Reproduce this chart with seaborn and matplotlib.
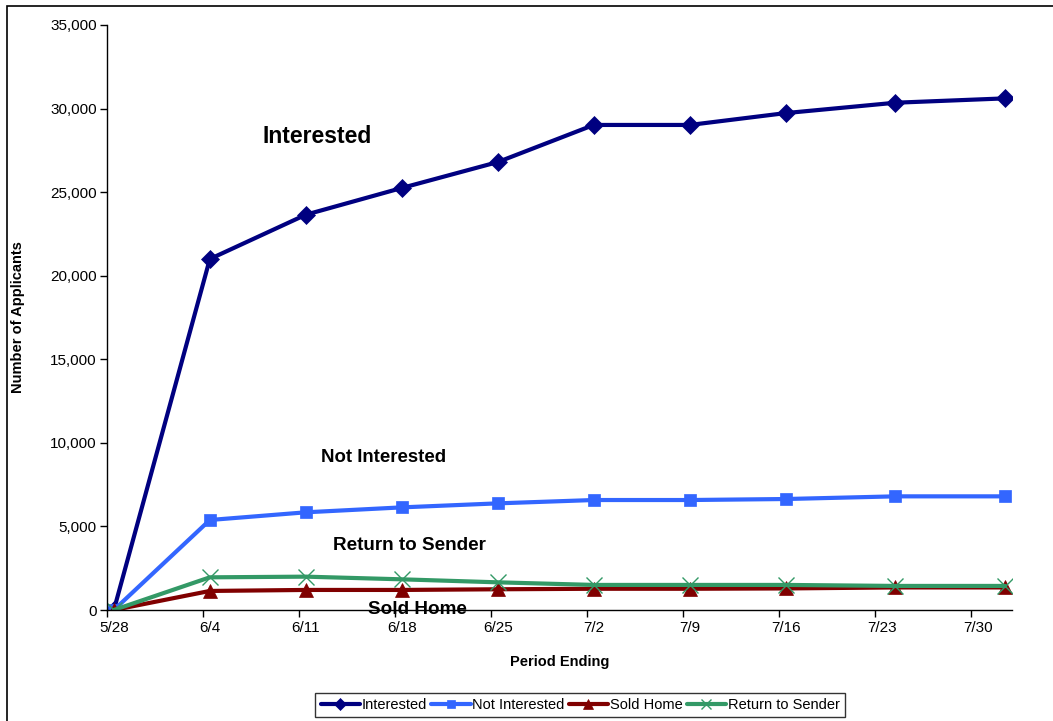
import matplotlib
matplotlib.use("Agg")
import matplotlib.pyplot as plt
import matplotlib.ticker as mticker
from matplotlib.patches import Rectangle
import seaborn as sns
import pandas as pd
import numpy as np

# Weekly report dates and applicant counts per response category
period_ending = ["2008-05-28", "2008-06-04", "2008-06-11", "2008-06-18", "2008-06-25",
                 "2008-07-02", "2008-07-09", "2008-07-16", "2008-07-24", "2008-08-01"]
interested = [0, 21000, 23650, 25250, 26800, 29020, 29020, 29730, 30350, 30610]
not_interested = [0, 5385, 5845, 6140, 6380, 6580, 6580, 6640, 6800, 6800]
sold_home = [0, 1140, 1200, 1200, 1240, 1270, 1270, 1290, 1350, 1350]
return_to_sender = [0, 1955, 1995, 1835, 1655, 1500, 1500, 1500, 1440, 1440]

tick_labels = ["5/28", "6/4", "6/11", "6/18", "6/25", "7/2", "7/9", "7/16", "7/23", "7/30"]

series_names = ["Interested", "Not Interested", "Sold Home", "Return to Sender"]
series_values = [interested, not_interested, sold_home, return_to_sender]
colors = {"Interested": "#000080", "Not Interested": "#3366FF",
          "Sold Home": "#800000", "Return to Sender": "#339966"}
markers = {"Interested": "D", "Not Interested": "s",
           "Sold Home": "^", "Return to Sender": "x"}
marker_sizes = {"Interested": 9, "Not Interested": 9, "Sold Home": 10, "Return to Sender": 11}

dates = pd.to_datetime(period_ending)
start = dates[0]
# Date axis in days; each point sits in the middle of its day slot
day_pos = ((dates - start).days + 0.5).to_numpy()

sns.set_style("white")
plt.rcParams["font.family"] = ["Liberation Sans", "DejaVu Sans"]
plt.rcParams["text.color"] = "black"
plt.rcParams["axes.labelcolor"] = "black"
plt.rcParams["xtick.color"] = "black"
plt.rcParams["ytick.color"] = "black"

fig = plt.figure(figsize=(10.53, 7.21), dpi=100)
ax = fig.add_axes([107 / 1053, (721 - 610) / 721, (1012 - 107) / 1053, (610 - 25) / 721])

for name, vals in zip(series_names, series_values):
    d = pd.DataFrame({"day": day_pos, "applicants": vals})
    is_x = markers[name] == "x"
    sns.lineplot(data=d, x="day", y="applicants", color=colors[name],
                 marker=markers[name], markersize=marker_sizes[name],
                 markeredgewidth=1.0 if is_x else 0.5,
                 markeredgecolor=colors[name], linewidth=3, label=name, ax=ax)

ax.set_xlim(0, 66)
ax.set_ylim(0, 35000)

# Tick marks on week boundaries, labels centred on the week's first day
week_days = np.arange(0, 70, 7)
ax.xaxis.set_major_locator(mticker.FixedLocator(week_days))
ax.xaxis.set_major_formatter(mticker.NullFormatter())
ax.xaxis.set_minor_locator(mticker.FixedLocator(week_days + 0.5))
ax.xaxis.set_minor_formatter(mticker.FixedFormatter(tick_labels))
ax.tick_params(axis="x", which="major", direction="out", length=5, width=1, color="black", bottom=True)
ax.tick_params(axis="x", which="minor", length=0, labelsize=11, pad=8)
ax.set_yticks(np.arange(0, 35001, 5000))
ax.yaxis.set_major_formatter(mticker.FuncFormatter(lambda v, p: f"{int(v):,}"))
ax.tick_params(axis="y", direction="out", length=5, width=1, color="black", labelsize=11, pad=2.5, left=True)

for side in ["top", "right"]:
    ax.spines[side].set_visible(False)
for side in ["left", "bottom"]:
    ax.spines[side].set_color("black")
    ax.spines[side].set_linewidth(1)
ax.grid(False)

ax.set_xlabel("Period Ending", fontsize=10.5, fontweight="bold", labelpad=14)
ax.set_ylabel("Number of Applicants", fontsize=10.5, fontweight="bold")
ax.yaxis.set_label_coords(-0.0906, 0.5)

# Series annotations
ax.text(15.3, 28300, "Interested", fontsize=16.5, fontweight="bold", ha="center", va="center")
ax.text(20.15, 9150, "Not Interested", fontsize=13.4, fontweight="bold", ha="center", va="center")
ax.text(22.07, 3850, "Return to Sender", fontsize=13.6, fontweight="bold", ha="center", va="center")
ax.text(22.67, 0, "Sold Home", fontsize=13.6, fontweight="bold", ha="center", va="center")

handles, labels = ax.get_legend_handles_labels()
if ax.legend_ is not None:
    ax.legend_.remove()
leg = fig.legend(handles, labels, loc="center", bbox_to_anchor=(580 / 1053, 1 - 705 / 721),
                 ncol=4, frameon=True, fancybox=False, edgecolor="black", fontsize=10.5,
                 handlelength=2.7, handletextpad=0.1, columnspacing=0.3,
                 borderpad=0.35, markerscale=0.7)
leg.get_frame().set_linewidth(1)

# Outer chart-area border
fig.patches.append(Rectangle((7 / 1053, -0.02), 1.0, (721 - 6) / 721 + 0.02,
                             transform=fig.transFigure, fill=False,
                             edgecolor="black", linewidth=1.2))

fig.savefig("out.png", dpi=100)
